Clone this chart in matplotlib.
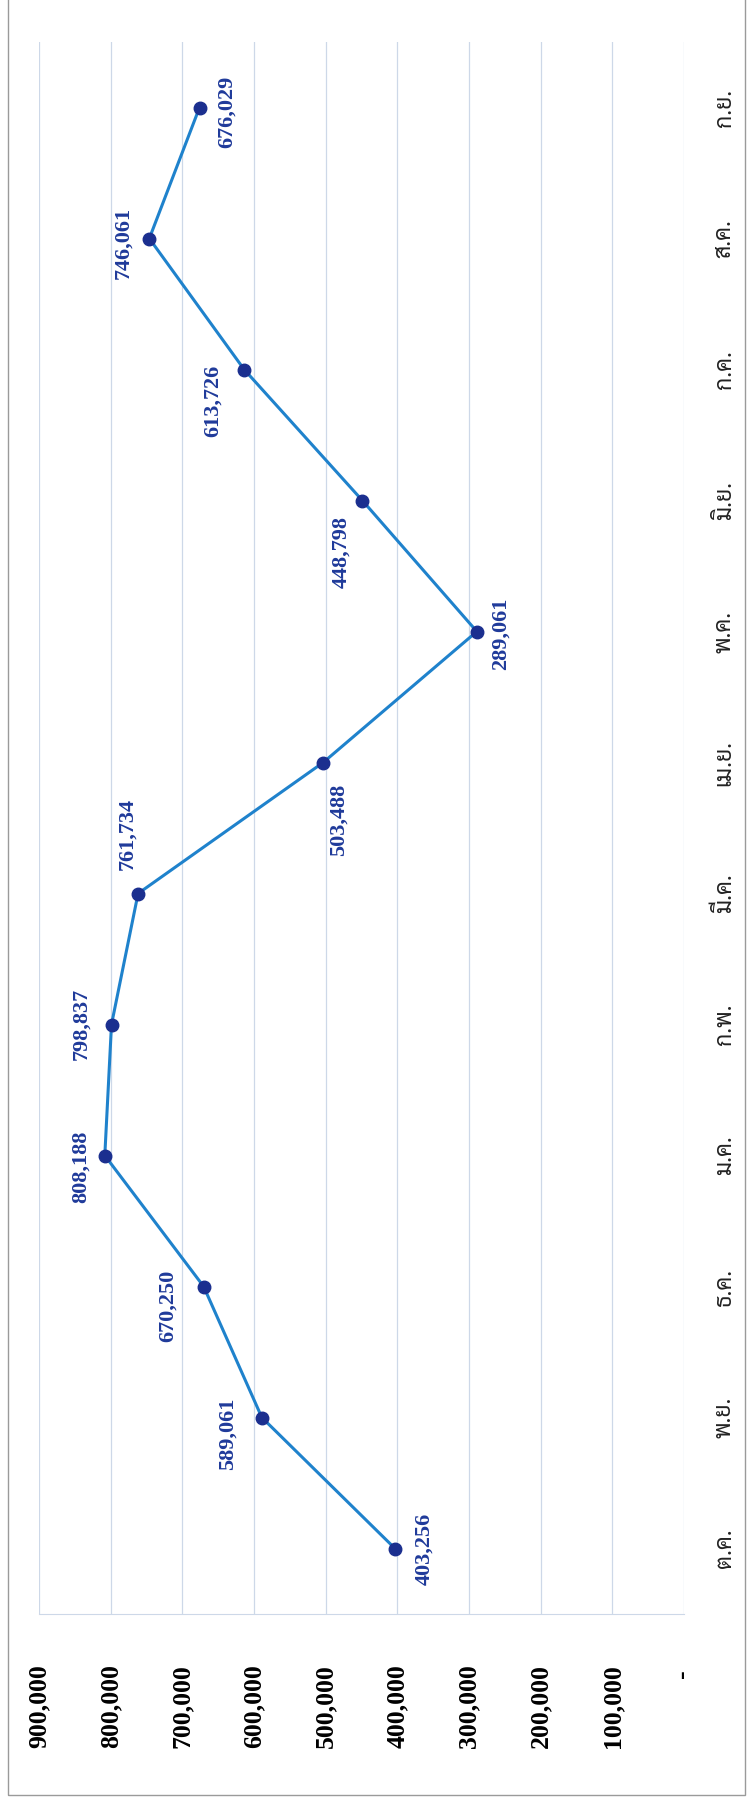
import matplotlib
matplotlib.use("Agg")
import matplotlib.pyplot as plt
from matplotlib.patches import Rectangle
import numpy as np

months = ['ต.ค.', 'พ.ย.', 'ธ.ค.', 'ม.ค.', 'ก.พ.', 'มี.ค.',
          'เม.ย.', 'พ.ค.', 'มิ.ย.', 'ก.ค.', 'ส.ค.', 'ก.ย.']
values = [403256, 589061, 670250, 808188, 798837, 761734,
          503488, 289061, 448798, 613726, 746061, 676029]
value_ticks = [900000, 800000, 700000, 600000, 500000,
               400000, 300000, 200000, 100000, 0]

# label offsets in pixels (dx right, dy down on the page)
label_offsets = [(29, 0), (-34, 16), (-36, 19), (-24, 11), (-30, -1), (-11, -59),
                 (15, 57), (24, 2), (-21, 52), (-31, 31), (-26, 4), (27, 4)]

# chart is drawn turned on its side: values run right-to-left, months bottom-to-top
fig = plt.figure(figsize=(7.47, 18.02), dpi=100)
ax = fig.add_axes([39/747, 188/1802, 645/747, 1572/1802])

x = np.arange(len(months))
ax.plot(values, x, color='#1f82cc', lw=2.2, marker='o', ms=9,
        markerfacecolor='#1b2f8f', markeredgecolor='#1b2f8f', zorder=3)

for v, yy, (dx, dy) in zip(values, x, label_offsets):
    ax.annotate(f"{v:,}", (v, yy), xytext=(dx*0.72, -dy*0.72), textcoords='offset points',
                rotation=90, ha='center', va='center', fontsize=16,
                fontweight='bold', family='Liberation Serif', color='#1f3a9a')

ax.set_xlim(900000, 0)
ax.set_ylim(-0.5, 11.5)
ax.set_xticks(value_ticks)
ax.set_xticklabels([f"{t:,}" if t else "- " for t in value_ticks], rotation=90,
                   fontsize=18.5, fontweight='bold', family='Liberation Serif')
ax.tick_params(axis='x', length=0, pad=36)

ax.yaxis.tick_right()
ax.set_yticks(x)
ax.set_yticklabels(months, rotation=90, va='center', fontsize=16.5,
                   family=['Sarabun', 'DejaVu Sans'], color='#222222')
ax.tick_params(axis='y', length=0, pad=21)

ax.grid(axis='x', color='#cdd8e8', lw=0.9)
for s in ['top', 'left', 'right']:
    ax.spines[s].set_visible(False)
ax.spines['bottom'].set_color('#cdd8e8')

# thin frame round the page
fig.patches.append(Rectangle((8/747, 7/1802), 737/747, 1.2, transform=fig.transFigure,
                             fill=False, edgecolor='#9a9a9a', lw=1))
fig.savefig('out.png', dpi=100)
